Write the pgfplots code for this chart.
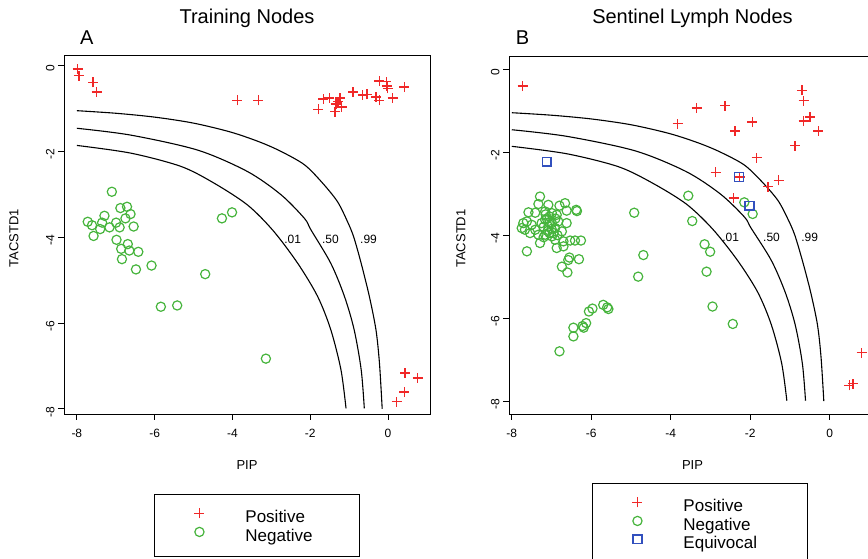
\documentclass[border=0pt]{standalone}
\usepackage{fontspec}
\setmainfont{Liberation Sans}
\usepackage{pgfplots}
\pgfplotsset{compat=1.18}
\definecolor{rpos}{RGB}{240,40,40}
\definecolor{rneg}{RGB}{70,180,60}
\definecolor{requ}{RGB}{50,80,190}

% marks that set their own stroke colour
\pgfdeclareplotmark{rplus}{%
  \pgfsetstrokecolor{rpos}%
  \pgfpathmoveto{\pgfqpoint{-\pgfplotmarksize}{0pt}}\pgfpathlineto{\pgfqpoint{\pgfplotmarksize}{0pt}}%
  \pgfpathmoveto{\pgfqpoint{0pt}{-\pgfplotmarksize}}\pgfpathlineto{\pgfqpoint{0pt}{\pgfplotmarksize}}%
  \pgfusepathqstroke}
\pgfdeclareplotmark{rcirc}{%
  \pgfsetstrokecolor{rneg}%
  \pgfpathcircle{\pgfpointorigin}{\pgfplotmarksize}%
  \pgfusepathqstroke}
\pgfdeclareplotmark{rsq}{%
  \pgfsetstrokecolor{requ}%
  \pgfpathrectangle{\pgfqpoint{-\pgfplotmarksize}{-\pgfplotmarksize}}{\pgfqpoint{2\pgfplotmarksize}{2\pgfplotmarksize}}%
  \pgfusepathqstroke}

\pgfplotsset{
  rbox/.style={
    scale only axis, anchor=south west, clip=false,
    axis line style={black, line width=0.9pt},
    tick align=outside, xtick pos=left, ytick pos=left,
    major tick length=6pt,
    every tick/.style={black, line width=0.9pt},
    xtick={-8,-6,-4,-2,0}, xticklabels={-8,-6,-4,-2,0},
    ytick={-8,-6,-4,-2,0}, yticklabels={-8,-6,-4,-2,0},
    tick label style={font=\fontsize{12}{12}\selectfont},
    yticklabel style={rotate=90, anchor=south, xshift=-3pt},
    xticklabel style={yshift=-6pt},
    label style={font=\fontsize{13}{13}\selectfont},
    xlabel={PIP}, ylabel={TACSTD1},
    xlabel style={at={(axis description cs:0.5,-0.142)}, anchor=center},
    title style={font=\fontsize{20}{20}\selectfont, at={(axis description cs:0.5,1)}, anchor=base},
    legend cell align=left,
    legend image code/.code={
      \draw[#1] plot coordinates {(0pt,4pt)};
      \path[draw=none, fill=none] (-5pt,4pt) (46pt,4pt);
    },
  },
  rleg/.style={legend style={draw=black, line width=0.9pt, fill=white,
    inner xsep=40pt, inner ysep=14pt, row sep=3pt,
    font=\fontsize{17}{17}\selectfont, nodes={inner sep=0pt}}},
  ppos/.style={only marks, mark=rplus, mark size=5pt, color=rpos, mark options={line width=1.5pt}},
  pneg/.style={only marks, mark=rcirc, mark size=4.6pt, color=rneg, mark options={line width=1.2pt}},
  pequ/.style={only marks, mark=rsq, mark size=4.4pt, color=requ, mark options={line width=1.4pt}},
  cline/.style={black, line width=1.1pt, smooth, forget plot},
}

\begin{document}
\begin{tikzpicture}

% ---------- A: training nodes ----------
\begin{axis}[rbox, rleg,
  at={(64pt,145pt)}, width=366pt, height=359pt,
  xmin=-8.33, xmax=1.079, ymin=-8.12, ymax=0.248,
  title={Training Nodes}, title style={yshift=25.7pt},
  ylabel style={at={(axis description cs:-0.137,0.49)}, anchor=center},
  legend style={at={(axis description cs:0.2459,-0.2228)}, anchor=north west},
]
\addplot[cline] coordinates {(-8.00,-1.05) (-7.0,-1.11) (-6.0,-1.20) (-5.0,-1.34) (-4.04,-1.55) (-3.3,-1.78) (-2.75,-2.00) (-2.15,-2.31) (-1.70,-2.72) (-1.30,-3.17) (-1.04,-3.64) (-0.88,-4.00) (-0.69,-4.61) (-0.48,-5.38) (-0.31,-6.16) (-0.22,-6.94) (-0.15,-8.00)};
\addplot[cline] coordinates {(-8.00,-1.46) (-6.61,-1.62) (-4.89,-1.97) (-3.61,-2.47) (-2.75,-3.01) (-2.15,-3.56) (-1.98,-3.83) (-1.47,-4.61) (-1.12,-5.38) (-0.87,-6.16) (-0.69,-7.09) (-0.61,-7.99)};
\addplot[cline] coordinates {(-8.00,-1.86) (-6.61,-2.04) (-5.32,-2.35) (-4.47,-2.74) (-3.61,-3.25) (-2.95,-3.85) (-2.32,-4.61) (-1.81,-5.38) (-1.47,-6.16) (-1.21,-7.09) (-1.08,-7.99)};

\addplot[ppos] coordinates {
  (-7.98,-0.08) (-7.95,-0.23) (-7.58,-0.39) (-7.49,-0.61) (-3.87,-0.81) (-3.33,-0.81)
  (-1.79,-1.02) (-1.66,-0.78) (-1.51,-0.75) (-1.36,-1.07) (-1.34,-0.90) (-1.28,-0.84)
  (-1.23,-0.76) (-1.19,-0.96) (-0.90,-0.61) (-0.65,-0.68) (-0.54,-0.67) (-0.31,-0.73)
  (-0.22,-0.81) (-0.22,-0.36) (-0.04,-0.37) (-0.03,-0.47) (-0.01,-0.53) (0.12,-0.75)
  (0.42,-0.50) (0.44,-7.16) (0.76,-7.28) (0.42,-7.61) (0.22,-7.83)
};
\addlegendentry{\makebox[74pt][l]{Positive}}
\addplot[pneg] coordinates {
  (-7.10,-2.94) (-7.72,-3.64) (-7.61,-3.72) (-7.57,-3.97) (-7.40,-3.81) (-7.35,-3.66)
  (-7.29,-3.50) (-7.16,-3.77) (-6.99,-3.66) (-6.90,-3.77) (-6.88,-3.32) (-6.75,-3.56)
  (-6.71,-3.29) (-6.62,-3.46) (-6.54,-3.75) (-6.98,-4.06) (-6.69,-4.16) (-6.86,-4.27)
  (-6.65,-4.31) (-6.42,-4.34) (-6.84,-4.51) (-6.48,-4.75) (-6.08,-4.66) (-4.27,-3.56)
  (-4.01,-3.42) (-4.70,-4.86) (-5.84,-5.62) (-5.42,-5.59) (-3.14,-6.83)
};
\addlegendentry{Negative}

\node[anchor=west, inner sep=0pt, font=\fontsize{12}{12}\selectfont] at (axis cs:-2.67,-4.06) {.01};
\node[anchor=west, inner sep=0pt, font=\fontsize{12}{12}\selectfont] at (axis cs:-1.70,-4.06) {.50};
\node[anchor=west, inner sep=0pt, font=\fontsize{12}{12}\selectfont] at (axis cs:-0.72,-4.06) {.99};
\node[anchor=base west, inner sep=0pt, font=\fontsize{20}{20}\selectfont] at (axis description cs:0.0437,1.0279) {A};
\end{axis}

% ---------- B: sentinel lymph nodes ----------
\begin{axis}[rbox, rleg,
  at={(509pt,145pt)}, width=367pt, height=358pt,
  xmin=-8.07, xmax=1.163, ymin=-8.31, ymax=0.317,
  title={Sentinel Lymph Nodes}, title style={yshift=26.7pt},
  ylabel style={at={(axis description cs:-0.131,0.49)}, anchor=center},
  legend style={at={(axis description cs:0.2262,-0.1927)}, anchor=north west},
]
\addplot[cline] coordinates {(-8.00,-1.05) (-7.0,-1.11) (-6.0,-1.20) (-5.0,-1.34) (-4.04,-1.55) (-3.3,-1.78) (-2.75,-2.00) (-2.15,-2.31) (-1.70,-2.72) (-1.30,-3.17) (-1.04,-3.64) (-0.88,-4.00) (-0.69,-4.61) (-0.48,-5.38) (-0.31,-6.16) (-0.22,-6.94) (-0.15,-8.00)};
\addplot[cline] coordinates {(-8.00,-1.46) (-6.61,-1.62) (-4.89,-1.97) (-3.61,-2.47) (-2.75,-3.01) (-2.15,-3.56) (-1.98,-3.83) (-1.47,-4.61) (-1.12,-5.38) (-0.87,-6.16) (-0.69,-7.09) (-0.61,-7.99)};
\addplot[cline] coordinates {(-8.00,-1.86) (-6.61,-2.04) (-5.32,-2.35) (-4.47,-2.74) (-3.61,-3.25) (-2.95,-3.85) (-2.32,-4.61) (-1.81,-5.38) (-1.47,-6.16) (-1.21,-7.09) (-1.08,-7.99)};

\addplot[ppos] coordinates {
  (-7.73,-0.41) (-3.35,-0.94) (-2.63,-0.88) (-3.83,-1.31) (-2.38,-1.49) (-1.95,-1.27)
  (-0.70,-0.51) (-0.66,-0.76) (-0.66,-1.25) (-0.50,-1.15) (-0.29,-1.49) (-0.87,-1.84)
  (-1.84,-2.13) (-2.87,-2.49) (-2.27,-2.60) (-1.56,-2.83) (-1.29,-2.68) (-2.42,-3.11)
  (0.80,-6.83) (0.49,-7.62) (0.59,-7.58)
};
\addlegendentry{\makebox[84pt][l]{Positive}}
\addplot[pneg] coordinates {
  (-7.29,-3.07) (-7.33,-3.25) (-7.08,-3.27) (-6.80,-3.29) (-6.66,-3.23) (-6.62,-3.41)
  (-6.38,-3.39) (-6.36,-3.42) (-7.58,-3.45) (-7.41,-3.46) (-7.16,-3.43) (-6.99,-3.47)
  (-6.87,-3.51) (-7.71,-3.71) (-7.62,-3.67) (-7.75,-3.83) (-7.67,-3.87) (-7.50,-3.75)
  (-7.41,-3.87) (-7.54,-3.95) (-7.25,-3.71) (-7.16,-3.63) (-7.08,-3.79) (-6.99,-3.71)
  (-6.91,-3.83) (-6.83,-3.67) (-6.62,-3.71) (-6.74,-3.91) (-7.33,-3.99) (-7.16,-3.99)
  (-6.99,-4.03) (-6.91,-4.11) (-7.29,-4.19) (-6.70,-4.15) (-6.53,-4.13) (-6.41,-4.13)
  (-6.26,-4.13) (-6.87,-4.31) (-6.70,-4.27) (-7.62,-4.39) (-6.58,-4.60) (-6.55,-4.54)
  (-6.31,-4.58) (-6.74,-4.76) (-6.60,-4.90)
  (-7.12,-3.60) (-7.05,-3.70) (-7.00,-3.85) (-7.10,-3.90) (-7.20,-3.80) (-6.95,-3.95)
  (-7.15,-3.50) (-7.05,-3.55) (-6.90,-3.60) (-7.05,-3.95) (-7.20,-4.05) (-6.85,-4.00)
  (-3.56,-3.05) (-4.92,-3.46) (-3.46,-3.66) (-2.15,-3.21) (-1.94,-3.49) (-4.69,-4.48)
  (-4.82,-5.00) (-3.15,-4.22) (-3.01,-4.40) (-3.10,-4.88) (-2.95,-5.72) (-2.44,-6.14)
  (-5.70,-5.68) (-5.57,-5.78) (-5.60,-5.74) (-5.97,-5.77) (-6.06,-5.84) (-6.13,-6.12)
  (-6.22,-6.19) (-6.19,-6.23) (-6.45,-6.23) (-6.45,-6.44) (-6.80,-6.80)
};
\addlegendentry{Negative}
\addplot[pequ] coordinates {(-7.12,-2.23) (-2.28,-2.60) (-2.02,-3.29)};
\addlegendentry{Equivocal}

\node[anchor=west, inner sep=0pt, font=\fontsize{12}{12}\selectfont] at (axis cs:-2.71,-4.05) {.01};
\node[anchor=west, inner sep=0pt, font=\fontsize{12}{12}\selectfont] at (axis cs:-1.68,-4.05) {.50};
\node[anchor=west, inner sep=0pt, font=\fontsize{12}{12}\selectfont] at (axis cs:-0.72,-4.05) {.99};
\node[anchor=base west, inner sep=0pt, font=\fontsize{20}{20}\selectfont] at (axis description cs:0.018,1.031) {B};
\end{axis}

\pgfresetboundingbox
\useasboundingbox (0pt,0pt) rectangle (868pt,559pt);
\end{tikzpicture}
\end{document}
